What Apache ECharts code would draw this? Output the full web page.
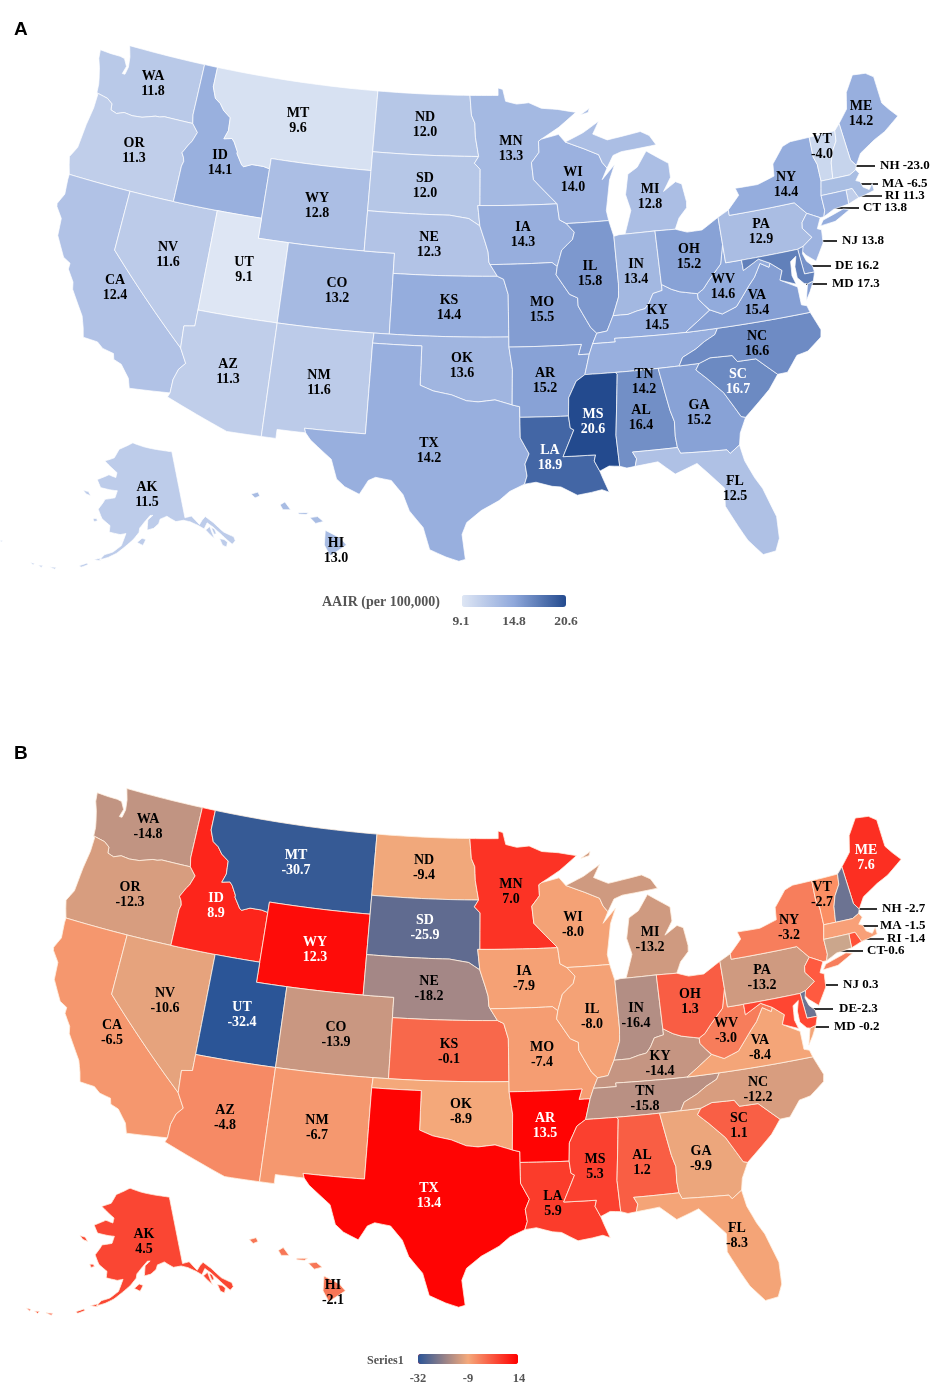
<!DOCTYPE html>
<html>
<head>
<meta charset="utf-8">
<title>US state maps</title>
<script src="https://cdn.jsdelivr.net/npm/echarts@6/dist/echarts.min.js"></script>
<style>
  html, body { margin: 0; padding: 0; background: #fff; }
  #app { width: 935px; height: 1388px; }
</style>
</head>
<body>
<div id="app"></div>
<script>
const stateCodes = ["WA","OR","CA","NV","ID","MT","WY","UT","AZ","CO","NM","ND","SD","NE","KS","OK","TX","MN","IA","MO","AR","LA","WI","IL","MI","IN","KY","TN","MS","AL","GA","FL","SC","NC","VA","WV","OH","PA","NY","ME","VT","NH","MA","RI","CT","NJ","DE","MD","AK","HI"];
const aairValues = [11.8,11.3,12.4,11.6,14.1,9.6,12.8,9.1,11.3,13.2,11.6,12.0,12.0,12.3,14.4,13.6,14.2,13.3,14.3,15.5,15.2,18.9,14.0,15.8,12.8,13.4,14.5,14.2,20.6,16.4,15.2,12.5,16.7,16.6,15.4,14.6,15.2,12.9,14.4,14.2,-4.0,-23.0,-6.5,11.3,13.8,13.8,16.2,17.3,11.5,13.0];
const changeValues = [-14.8,-12.3,-6.5,-10.6,8.9,-30.7,12.3,-32.4,-4.8,-13.9,-6.7,-9.4,-25.9,-18.2,-0.1,-8.9,13.4,7.0,-7.9,-7.4,13.5,5.9,-8.0,-8.0,-13.2,-16.4,-14.4,-15.8,5.3,1.2,-9.9,-8.3,1.1,-12.2,-8.4,-3.0,1.3,-13.2,-3.2,7.6,-2.7,-2.7,-1.5,-1.4,-0.6,0.3,-2.3,-0.2,4.5,-2.1];

const legendTicksA = ["9.1","14.8","20.6"];
const legendTicksB = ["-32","-9","14"];
const calloutStates = ["NH","MA","RI","CT","NJ","DE","MD"];

// state outlines, lon lat
const stateShapes = {
  WA: ["-124.73 48.38,-123.9 48.35,-123.2 48.35,-122.85 48.3,-122.55 47.95,-122.7 47.55,-122.5 47.55,-122.4 47.95,-122.5 48.45,-122.75 49,-117.03 49,-117.04 46.42,-116.92 45.99,-118.98 46,-119.3 45.93,-119.6 45.92,-120.5 45.7,-121.2 45.65,-121.8 45.7,-122.3 45.55,-122.75 45.65,-122.8 45.95,-123.2 46.15,-123.9 46.25,-124.05 46.27,-124.1 46.7,-124.2 47,-124.4 47.5,-124.65 47.95"],
  OR: ["-124.05 46.27,-123.9 46.25,-123.2 46.15,-122.8 45.95,-122.75 45.65,-122.3 45.55,-121.8 45.7,-121.2 45.65,-120.5 45.7,-119.6 45.92,-119.3 45.93,-118.98 46,-116.92 45.99,-116.46 45.6,-116.7 45.1,-116.85 44.95,-117.2 44.45,-117.03 44.25,-116.95 44.05,-117.03 43.8,-117.03 42,-120 42,-124.2 42,-124.4 42.45,-124.55 42.84,-124.2 43.4,-124.1 44.6,-123.95 45.5,-123.95 46.2"],
  CA: ["-124.2 42,-120 42,-120 39,-114.63 35,-114.15 34.3,-114.5 33.95,-114.7 33.4,-114.72 32.72,-117.12 32.53,-117.3 33,-117.9 33.6,-118.4 33.75,-118.5 34.03,-119.2 34.15,-119.6 34.4,-120.5 34.45,-120.65 34.9,-120.9 35.45,-121.9 36.6,-122 36.95,-122.5 37.5,-122.5 37.8,-123 38,-123.75 38.95,-123.85 39.8,-124.35 40.3,-124.4 40.45,-124.1 41,-124.2 41.75"],
  NV: ["-120 42,-117.03 42,-114.04 42,-114.04 37,-114.04 36.2,-114.7 36.1,-114.63 35,-120 39"],
  ID: ["-117.03 49,-116.05 49,-116.05 48,-115.72 47.45,-115.3 47.25,-114.95 46.93,-114.4 46.65,-114.35 46,-114.55 45.56,-114 45.65,-113.8 45.5,-113.45 45.05,-113.45 44.95,-113 44.45,-112.85 44.37,-112.3 44.55,-111.5 44.55,-111.05 44.48,-111.05 42,-117.03 42,-117.03 43.8,-116.95 44.05,-117.03 44.25,-117.2 44.45,-116.85 44.95,-116.7 45.1,-116.46 45.6,-116.92 45.99,-117.04 46.42"],
  MT: ["-116.05 49,-104.05 49,-104.05 45,-111.05 45,-111.05 44.48,-111.5 44.55,-112.3 44.55,-112.85 44.37,-113 44.45,-113.45 44.95,-113.45 45.05,-113.8 45.5,-114 45.65,-114.55 45.56,-114.35 46,-114.4 46.65,-114.95 46.93,-115.3 47.25,-115.72 47.45,-116.05 48"],
  WY: ["-111.05 45,-104.05 45,-104.05 41,-111.05 41"],
  UT: ["-114.04 42,-111.05 42,-111.05 41,-109.05 41,-109.05 37,-114.04 37"],
  AZ: ["-114.04 37,-109.05 37,-109.05 31.33,-111.07 31.33,-114.82 32.5,-114.72 32.72,-114.7 33.4,-114.5 33.95,-114.15 34.3,-114.63 35,-114.7 36.1,-114.04 36.2"],
  CO: ["-109.05 41,-102.05 41,-102.05 37,-109.05 37"],
  NM: ["-109.05 37,-103 37,-103.04 36.5,-103.06 32,-106.62 32,-106.53 31.78,-108.2 31.78,-108.2 31.33,-109.05 31.33"],
  ND: ["-104.05 49,-97.23 49,-97.1 48,-96.85 47.6,-96.8 46.9,-96.56 45.94,-104.05 45.94"],
  SD: ["-104.05 45.94,-96.56 45.94,-96.85 45.6,-96.45 45.3,-96.45 43.5,-96.6 43.5,-96.45 42.49,-97.2 42.85,-98.5 43,-104.05 43"],
  NE: ["-104.05 43,-98.5 43,-97.2 42.85,-96.45 42.49,-96.1 41.7,-95.9 41.2,-95.85 40.7,-95.77 40.58,-95.3 40,-102.05 40,-102.05 41,-104.05 41"],
  KS: ["-102.05 40,-95.3 40,-94.9 39.85,-94.62 39.1,-94.62 37,-102.05 37"],
  OK: ["-103 37,-94.62 37,-94.62 36.5,-94.43 35.4,-94.48 33.64,-95.5 33.9,-96.5 33.8,-97.2 33.85,-98.1 34.13,-99.2 34.3,-100 34.56,-100 36.5,-103.04 36.5"],
  TX: ["-103.04 36.5,-100 36.5,-100 34.56,-99.2 34.3,-98.1 34.13,-97.2 33.85,-96.5 33.8,-95.5 33.9,-94.48 33.64,-94.04 33.55,-94.04 33.02,-94.04 32,-93.55 31.2,-93.8 30.7,-93.7 30.1,-93.85 29.7,-94.7 29.35,-95.3 28.9,-96.3 28.4,-97.1 27.8,-97.35 27.2,-97.15 25.95,-97.5 25.85,-98.2 26.05,-99.1 26.4,-99.5 27.5,-100.3 28.3,-100.7 29.1,-101.4 29.77,-102.3 29.88,-102.7 29.7,-103.15 28.98,-104 29.3,-104.5 29.65,-104.9 30.6,-106.2 31.45,-106.53 31.78,-106.62 32,-103.06 32"],
  MN: ["-97.23 49,-95.15 49,-95.15 49.38,-94.8 49.3,-94.6 48.7,-93.8 48.55,-92.9 48.6,-92 48.3,-90.8 48.2,-89.5 48,-90.8 47.3,-92.1 46.75,-92.3 46.65,-92.29 46.1,-92.85 45.6,-92.75 44.75,-91.2 43.5,-96.45 43.5,-96.45 45.3,-96.85 45.6,-96.56 45.94,-96.8 46.9,-96.85 47.6,-97.1 48"],
  IA: ["-96.6 43.5,-96.45 43.5,-91.2 43.5,-91.1 42.7,-90.65 42.5,-90.15 42.05,-90.3 41.7,-91.05 41.2,-91.4 40.4,-91.73 40.61,-95.77 40.58,-95.85 40.7,-95.9 41.2,-96.1 41.7,-96.45 42.49"],
  MO: ["-95.77 40.58,-91.73 40.61,-91.4 40.4,-91.5 40,-90.7 39,-90.2 38.8,-90.2 38.4,-89.5 37.3,-89.15 37,-89.45 36.5,-89.7 36,-90.37 36,-90.15 36.5,-94.62 36.5,-94.62 37,-94.62 39.1,-94.9 39.85,-95.3 40"],
  AR: ["-94.62 36.5,-90.15 36.5,-90.37 36,-89.7 36,-90.05 35,-90.6 34.7,-91.1 33.9,-91.17 33,-94.04 33.02,-94.04 33.55,-94.48 33.64,-94.43 35.4"],
  LA: ["-94.04 33.02,-91.17 33,-91.1 32.4,-90.9 32.3,-91.6 31,-89.73 31,-89.83 30.7,-89.55 30.18,-89.4 29.8,-89.1 29.1,-89.5 29.25,-90.1 29.15,-90.9 29.05,-91.8 29.5,-92.3 29.55,-93.2 29.78,-93.85 29.7,-93.7 30.1,-93.8 30.7,-93.55 31.2,-94.04 32"],
  MS: ["-90.05 35,-88.2 35,-88.1 34.9,-88.47 31.9,-88.4 30.35,-89 30.4,-89.55 30.18,-89.83 30.7,-89.73 31,-91.6 31,-90.9 32.3,-91.1 32.4,-91.17 33,-91.1 33.9,-90.6 34.7"],
  AL: ["-88.2 35,-85.6 35,-85.18 32.87,-85 32.3,-85.05 31.55,-85 31,-87.6 31,-87.4 30.65,-87.52 30.28,-88 30.23,-88.4 30.35,-88.47 31.9,-88.1 34.9"],
  GA: ["-85.6 35,-83.1 35,-83.35 34.7,-82.75 34.2,-81.9 33.4,-81.4 32.6,-81.1 32.1,-80.85 32.03,-81.3 31.3,-81.45 30.72,-82.05 30.37,-82.2 30.57,-84.86 30.7,-85 31,-85.05 31.55,-85 32.3,-85.18 32.87"],
  FL: ["-87.6 31,-85 31,-84.86 30.7,-82.2 30.57,-82.05 30.37,-81.45 30.72,-81.3 29.9,-80.9 29,-80.55 28.4,-80.05 26.9,-80.1 25.8,-80.4 25.2,-81.1 25.12,-81.8 25.95,-82.2 26.7,-82.75 27.8,-82.65 28.7,-83.4 29.5,-84 30.1,-85.3 29.7,-86.2 30.4,-87.52 30.28,-87.4 30.65"],
  SC: ["-83.1 35,-82.4 35.2,-81.05 35.15,-80.8 34.82,-79.67 34.8,-78.55 33.86,-79.2 33.2,-79.9 32.7,-80.85 32.03,-81.1 32.1,-81.4 32.6,-81.9 33.4,-82.75 34.2,-83.35 34.7"],
  NC: ["-84.32 35,-83.1 35,-82.4 35.2,-81.05 35.15,-80.8 34.82,-79.67 34.8,-78.55 33.86,-77.95 33.87,-77.2 34.6,-76.5 34.7,-75.55 35.25,-75.45 35.6,-75.87 36.55,-81.68 36.59,-81.9 36.3,-82.6 36.03,-83.2 35.72,-84.05 35.4"],
  TN: ["-89.7 36,-89.45 36.5,-88.05 36.5,-88.07 36.68,-83.68 36.6,-81.68 36.59,-81.9 36.3,-82.6 36.03,-83.2 35.72,-84.05 35.4,-84.32 35,-85.6 35,-88.2 35,-90.05 35"],
  KY: ["-89.15 37,-88.5 37.07,-88.05 37.8,-87.1 37.8,-86.5 37.93,-86 38,-85.7 38.28,-85.4 38.7,-84.8 38.8,-84.8 39.1,-84.2 38.8,-83.7 38.63,-82.6 38.42,-82.6 38.15,-82 37.53,-81.97 37.54,-83.68 36.6,-88.07 36.68,-88.05 36.5,-89.45 36.5"],
  IL: ["-90.65 42.5,-87.8 42.5,-87.55 41.7,-87.53 39.35,-87.6 38.7,-88.05 37.8,-88.5 37.07,-89.15 37,-89.5 37.3,-90.2 38.4,-90.2 38.8,-90.7 39,-91.5 40,-91.4 40.4,-91.05 41.2,-90.3 41.7,-90.15 42.05"],
  IN: ["-87.55 41.7,-87.2 41.76,-86.8 41.76,-84.8 41.76,-84.8 39.1,-84.8 38.8,-85.4 38.7,-85.7 38.28,-86 38,-86.5 37.93,-87.1 37.8,-88.05 37.8,-87.6 38.7,-87.53 39.35"],
  OH: ["-84.8 41.76,-83.45 41.72,-82.7 41.5,-81.7 41.5,-80.52 42,-80.52 40.64,-80.85 39.7,-81.75 39,-82.2 38.6,-82.6 38.42,-83.7 38.63,-84.2 38.8,-84.8 39.1"],
  WV: ["-80.52 40.64,-80.52 39.72,-79.48 39.72,-79.48 39.2,-78.4 39.62,-77.72 39.32,-77.83 39.13,-78.35 39.4,-78.87 38.77,-79.3 38.42,-80.3 37.5,-81.25 37.25,-81.97 37.54,-82 37.53,-82.6 38.15,-82.6 38.42,-82.2 38.6,-81.75 39,-80.85 39.7"],
  VA: ["-83.68 36.6,-81.97 37.54,-81.25 37.25,-80.3 37.5,-79.3 38.42,-78.87 38.77,-78.35 39.4,-77.83 39.13,-77.72 39.32,-77.05 38.85,-77.3 38.4,-76.3 37.9,-76.3 37,-75.98 36.9,-75.87 36.55,-81.68 36.59", "-75.95 37.15,-75.65 37.95,-75.25 38.03,-75.6 37.55"],
  MD: ["-79.48 39.72,-75.79 39.72,-75.7 38.46,-75.05 38.45,-75.25 38.03,-75.65 37.95,-75.85 38,-76.2 38.35,-76.2 38.9,-76 39.4,-76.4 39.2,-76.5 38.5,-76.35 38.05,-77.3 38.4,-77.05 38.85,-77.72 39.32,-78.4 39.62,-79.48 39.2"],
  DE: ["-75.79 39.72,-75.41 39.8,-75.55 39.45,-75.4 39.05,-75.1 38.78,-75.05 38.45,-75.7 38.46"],
  PA: ["-80.52 42,-79.76 42.27,-79.76 42,-75.35 42,-74.7 41.36,-75.13 40.97,-75.2 40.68,-74.72 40.15,-75.41 39.8,-75.79 39.72,-80.52 39.72"],
  NJ: ["-74.7 41.36,-73.9 41,-74.25 40.5,-74 40.4,-74.1 39.75,-74.8 38.95,-75.35 39.35,-75.55 39.6,-75.41 39.8,-74.72 40.15,-75.2 40.68,-75.13 40.97"],
  NY: ["-79.76 42.27,-78.9 42.9,-79.05 43.27,-77.5 43.25,-76.3 43.5,-76.2 44.1,-75.3 44.85,-74.7 45,-73.34 45,-73.4 44,-73.25 43.6,-73.27 42.75,-73.5 42.05,-73.5 41.3,-73.65 41,-73.9 41,-74.7 41.36,-75.35 42,-79.76 42", "-74 40.6,-73.75 40.85,-72.3 41.15,-71.9 41.05,-73 40.65"],
  VT: ["-73.34 45,-71.5 45.01,-71.6 44.5,-72.05 44,-72.3 43.5,-72.46 42.73,-73.27 42.75,-73.25 43.6,-73.4 44"],
  NH: ["-71.5 45.01,-71.08 45.3,-70.98 43.4,-70.7 43.07,-70.82 42.87,-71.3 42.7,-72.46 42.73,-72.3 43.5,-72.05 44,-71.6 44.5"],
  ME: ["-71.08 45.3,-70.3 45.9,-70 46.7,-69.23 47.46,-68.3 47.36,-67.8 47.07,-67.8 45.7,-67.45 45.3,-67 44.85,-68.2 44.3,-69.05 44.05,-70.2 43.6,-70.7 43.07,-70.98 43.4"],
  MA: ["-73.5 42.05,-71.8 42.02,-71.38 42.02,-71.12 41.5,-70.65 41.55,-70 41.65,-70 42,-70.3 41.75,-70.65 41.95,-70.75 42.25,-71 42.35,-70.65 42.65,-70.82 42.87,-71.3 42.7,-72.46 42.73,-73.27 42.75"],
  CT: ["-73.5 42.05,-71.8 42.02,-71.86 41.32,-72.9 41.25,-73.65 41,-73.5 41.3"],
  RI: ["-71.8 42.02,-71.38 42.02,-71.12 41.5,-71.86 41.32"],
  MI: ["-86.8 41.76,-84.8 41.76,-83.45 41.72,-83.1 42.25,-82.5 42.7,-82.45 43,-82.6 43.9,-83 44.05,-83.9 43.65,-83.3 44.3,-83.3 45,-84.75 45.75,-85.5 45,-86.2 44.7,-86.5 43.7,-86.25 42.9", "-90.4 46.55,-89.1 46.95,-87.9 47.47,-88.4 46.85,-87.4 46.5,-85 46.75,-84.4 46.5,-84 46,-84.8 45.95,-86.5 45.85,-87.1 45.7,-87.6 45.1,-87.9 45.4,-88.1 45.8,-89.1 46.15", "-89.2 47.85,-88.5 48.15,-88.6 47.95"],
  WI: ["-92.29 46.1,-92.3 46.65,-92.1 46.75,-90.85 46.95,-90.4 46.55,-89.1 46.15,-88.1 45.8,-87.9 45.4,-87.6 45.1,-88 44.55,-87.05 45.25,-87.5 44.5,-87.9 43,-87.8 42.5,-90.65 42.5,-91.1 42.7,-91.2 43.5,-92.75 44.75,-92.85 45.6"],
  AK: [
    "-141 69.65,-141 60.3,-139.1 60.35,-137.5 58.95,-136.5 59.45,-135.4 59.8,-133.8 58.7,-132 57,-130 55.9,-130 55.3,-131 55,-131.8 55.8,-133 57,-134.2 58.1,-135.4 58.9,-136.6 58.2,-138 58.9,-139.8 59.6,-141.5 60,-143.7 60,-146 60.9,-148 60.6,-148.5 60,-150 59.4,-151.8 59.2,-151.5 60.6,-150 61.2,-150.8 61.2,-152.5 60.3,-153.8 59.5,-154 58.9,-155.5 57.9,-157.5 56.9,-159.5 55.9,-161.5 55.2,-163.5 54.7,-162.5 55.5,-160.5 56,-158.5 57,-157.5 58.7,-159 58.5,-162 58.7,-162 59.6,-164.5 60.4,-166 61.6,-164.8 62.7,-164.5 63.1,-161.5 63.5,-161 64.5,-163 64.5,-166.5 64.6,-168.1 65.6,-164.5 66.55,-162 66.3,-161.8 67,-164 67.6,-166.8 68.35,-163.5 69,-162 70.3,-156.6 71.35,-152 70.8,-148 70.4,-144 70",
    "-154.5 57.5,-153.2 58.1,-152.2 57.9,-153 57.1",
    "-167 60.2,-166 60.3,-165.6 60,-166.5 59.8",
    "-171.7 63.7,-170 63.7,-169 63.2,-170.5 63.3",
    "-164.9 54.6,-163.2 55,-163.3 54.6",
    "-168 53.4,-166.3 54,-166 53.8,-167.5 53.25",
    "-174.5 52.2,-173 52.4,-173.2 52.1",
    "-177 51.9,-176 52.1,-176.2 51.75",
    "-178.9 51.9,-177.9 51.95,-178.1 51.7",
    "-187.2 52.9,-186.6 53,-186.8 52.75",
    "-133.5 56.3,-132.5 56,-131.9 55.5,-132.5 54.9,-133.3 55.3",
    "-136.3 58,-135 58.3,-134.9 57.5,-134.7 56.5,-135.5 57.2",
    "-134.7 58.1,-134 57.8,-133.9 57.1,-134.5 57.1"
  ],
  HI: [
    "-155.9 20.25,-155.1 19.85,-154.8 19.5,-155.65 18.95,-155.95 19.5",
    "-156.7 20.9,-156.3 20.95,-156 20.7,-156.4 20.6",
    "-157.3 21.15,-156.75 21.15,-156.9 21.05,-157.3 21.08",
    "-158.25 21.55,-158 21.7,-157.7 21.3,-158.1 21.3",
    "-159.75 22.1,-159.4 22.2,-159.3 22,-159.55 21.9"
  ]
};

// page pixel centre of each state label, panel A then panel B
const labelSpotsA = { WA:[153,84],OR:[134,151],CA:[115,288],NV:[168,255],ID:[220,163],MT:[298,121],WY:[317,206],UT:[244,270],AZ:[228,372],CO:[337,291],NM:[319,383],ND:[425,125],SD:[425,186],NE:[429,245],KS:[449,308],OK:[462,366],TX:[429,451],MN:[511,149],IA:[523,235],MO:[542,310],AR:[545,381],LA:[550,458],WI:[573,180],IL:[590,274],MI:[650,197],IN:[636,272],KY:[657,318],TN:[644,382],MS:[593,422],AL:[641,418],GA:[699,413],FL:[735,489],SC:[738,382],NC:[757,344],VA:[757,303],WV:[723,287],OH:[689,257],PA:[761,232],NY:[786,185],ME:[861,114],VT:[822,147],AK:[147,495],HI:[336,551] };
const labelSpotsB = { WA:[148,827],OR:[130,895],CA:[112,1033],NV:[165,1001],ID:[216,906],MT:[296,863],WY:[315,950],UT:[242,1015],AZ:[225,1118],CO:[336,1035],NM:[317,1128],ND:[424,868],SD:[425,928],NE:[429,989],KS:[449,1052],OK:[461,1112],TX:[429,1196],MN:[511,892],IA:[524,979],MO:[542,1055],AR:[545,1126],LA:[553,1204],WI:[573,925],IL:[592,1017],MI:[650,940],IN:[636,1016],KY:[660,1064],TN:[645,1099],MS:[595,1167],AL:[642,1163],GA:[701,1159],FL:[737,1236],SC:[739,1126],NC:[758,1090],VA:[760,1048],WV:[726,1031],OH:[690,1002],PA:[762,978],NY:[789,928],ME:[866,858],VT:[822,895],AK:[144,1242],HI:[333,1293] };

// leader lines: x1, x2, y, text x
const calloutsA = { NH:[845,875,166,880], MA:[856,878,184,882], RI:[849,882,196,885], CT:[827,859,208,863], NJ:[813,837,241,842], DE:[807,831,266,835], MD:[806,827,284,832] };
const calloutsB = { NH:[846,877,909,882], MA:[857,878,926,880], RI:[851,884,939,887], CT:[831,863,951,867], NJ:[814,838,985,843], DE:[809,833,1009,839], MD:[807,829,1027,834] };
const calloutGapB = { CT: "", DE: "" };

// states whose fill in the figure does not follow the printed value
const fillOverridesA = { VT: "#CBD8EE", NH: "#C6D4EC", MA: "#A9BEE3" };
const fillOverridesB = { NH: "#6C7392", DE: "#6C7392", CT: "#CBA68C", RI: "#FF5038", NJ: "#FF5A40", MD: "#FF4632", VT: "#FB8F64", MA: "#F8A078" };

const whiteLabelsA = ["LA", "MS", "SC"];
const whiteLabelsB = ["ME", "ID", "MT", "WY", "UT", "SD", "AR", "TX"];

const SERIF = '"Liberation Serif", serif';

// Albers for the lower 48, its own conic for Alaska, flat inset for Hawaii
const rad = Math.PI / 180;
function conic(p1, p2, lat0) {
  const n = (Math.sin(p1 * rad) + Math.sin(p2 * rad)) / 2;
  const c = Math.cos(p1 * rad) ** 2 + 2 * n * Math.sin(p1 * rad);
  const rho = lat => Math.sqrt(c - 2 * n * Math.sin(lat * rad)) / n;
  return { n, c, rho, rho0: lat0 == null ? 0 : rho(lat0) };
}
const usCone = conic(29.5, 45.5, 37.5);
const akCone = conic(55, 65);
const US = { sx: 1166, sy: 1150, x0: 486.6, y0: 327 };
const AK = { s: 413, x0: 139, y0: 286 };
const HI = { sx: 19.25, sy: 19.6, x0: 333, y0: 545 };

// place: panel A page pixels to this panel's page pixels
function makeProjection(place) {
  return {
    project(pt) {
      const lon = pt[0], lat = pt[1];
      let x, y;
      if (lon < -150 && lat < 25) {
        x = HI.x0 + HI.sx * (lon + 155.5);
        y = HI.y0 - HI.sy * (lat - 19.5);
      } else if (lon < -128 && lat > 50) {
        const t = akCone.n * (lon + 154) * rad, r = akCone.rho(lat);
        x = AK.x0 + AK.s * r * Math.sin(t);
        y = AK.y0 + AK.s * r * Math.cos(t);
      } else {
        const t = usCone.n * (lon + 96) * rad, r = usCone.rho(lat);
        x = US.x0 + US.sx * r * Math.sin(t);
        y = US.y0 - US.sy * (usCone.rho0 - r * Math.cos(t));
      }
      return [place.x0 + place.kx * x, place.y0 + place.ky * y];
    },
    unproject(pt) {
      return invert((pt[0] - place.x0) / place.kx, (pt[1] - place.y0) / place.ky, "US");
    }
  };
}

function invert(px, py, zone) {
  if (zone === "HI") return [(px - HI.x0) / HI.sx - 155.5, 19.5 - (py - HI.y0) / HI.sy];
  const cone = zone === "AK" ? akCone : usCone;
  const x = zone === "AK" ? (px - AK.x0) / AK.s : (px - US.x0) / US.sx;
  const y = zone === "AK" ? (py - AK.y0) / AK.s : usCone.rho0 - (US.y0 - py) / US.sy;
  const r = Math.hypot(x, y), t = Math.atan2(x, y);
  const lon = (zone === "AK" ? -154 : -96) + t / cone.n / rad;
  const lat = Math.asin((cone.c - (r * cone.n) ** 2) / (2 * cone.n)) / rad;
  return [lon, lat];
}

// long straight borders have to bend with the cone
function parseRing(text) {
  const pts = text.split(",").map(p => p.trim().split(" ").map(Number));
  pts.push(pts[0]);
  const out = [];
  pts.forEach((p, i) => {
    if (i === 0) { out.push(p); return; }
    const q = pts[i - 1];
    const steps = Math.ceil(Math.max(Math.abs(p[0] - q[0]), Math.abs(p[1] - q[1])) / 0.5);
    for (let k = 1; k <= steps; k++) {
      out.push([q[0] + (p[0] - q[0]) * k / steps, q[1] + (p[1] - q[1]) * k / steps]);
    }
  });
  return out;
}

function buildPanel(mapName, spots, place) {
  const projection = makeProjection(place);
  let minX = Infinity, minY = Infinity, maxX = -Infinity, maxY = -Infinity;
  const features = stateCodes.map(code => {
    const rings = stateShapes[code].map(parseRing);
    rings.forEach(ring => ring.forEach(pt => {
      const p = projection.project(pt);
      minX = Math.min(minX, p[0]); maxX = Math.max(maxX, p[0]);
      minY = Math.min(minY, p[1]); maxY = Math.max(maxY, p[1]);
    }));
    const spot = spots[code] || [300, 300];
    const zone = code === "AK" || code === "HI" ? code : "US";
    return {
      type: "Feature",
      properties: { name: code, cp: invert((spot[0] - place.x0) / place.kx, (spot[1] - place.y0) / place.ky, zone) },
      geometry: { type: "MultiPolygon", coordinates: rings.map(r => [r]) }
    };
  });
  echarts.registerMap(mapName, { type: "FeatureCollection", features });
  return { projection, box: { left: minX, top: minY, width: maxX - minX, height: maxY - minY } };
}

function mapSeries(mapName, panel, values, overrides, whites, borderColor) {
  return Object.assign({
    type: "map",
    map: mapName,
    projection: panel.projection,
    roam: false,
    silent: true,
    animation: false,
    showLegendSymbol: false,
    itemStyle: { borderColor, borderWidth: 1 },
    label: {
      show: true,
      fontFamily: SERIF,
      fontWeight: "bold",
      fontSize: 14,
      lineHeight: 15.5,
      color: "#000",
      formatter: p => p.name + "\n" + values[stateCodes.indexOf(p.name)].toFixed(1)
    },
    data: stateCodes.map((code, i) => {
      const item = { name: code, value: values[i] };
      if (calloutStates.includes(code)) item.label = { show: false };
      if (whites.includes(code)) item.label = { color: "#fff" };
      if (overrides[code]) {
        item.visualMap = false;
        item.itemStyle = { color: overrides[code], areaColor: overrides[code] };
      }
      return item;
    })
  }, panel.box);
}

function calloutGraphics(callouts, values, gaps) {
  const out = [];
  calloutStates.forEach(code => {
    const c = callouts[code];
    const val = values[stateCodes.indexOf(code)].toFixed(1);
    const gap = gaps[code] === undefined ? " " : gaps[code];
    out.push({ type: "line", silent: true, shape: { x1: c[0], y1: c[2], x2: c[1], y2: c[2] }, style: { stroke: "#000", lineWidth: 1.6 } });
    out.push({ type: "text", silent: true, style: { x: c[3], y: c[2], text: code + gap + val, font: 'bold 13px ' + SERIF, fill: "#000", verticalAlign: "middle" } });
  });
  return out;
}

function plainText(x, y, text, font, fill, align) {
  return { type: "text", silent: true, style: { x, y, text, font, fill, align: align || "left", verticalAlign: "middle" } };
}

function legendGraphics(title, titleSize, titleX, titleY, ticks, tickSize, tickXs, tickY, color) {
  const out = [plainText(titleX, titleY, title, 'bold ' + titleSize + 'px ' + SERIF, color)];
  ticks.forEach((t, i) => out.push(plainText(tickXs[i], tickY, t, 'bold ' + tickSize + 'px ' + SERIF, color, "center")));
  return out;
}

const panelA = buildPanel("usA", labelSpotsA, { x0: 0, y0: 0, kx: 1, ky: 1 });
const panelB = buildPanel("usB", labelSpotsB, { x0: -3.9, y0: 742.6, kx: 1.008, ky: 1.006 });

const chart = echarts.init(document.getElementById("app"));
chart.setOption({
  backgroundColor: "#fff",
  animation: false,
  visualMap: [
    {
      type: "continuous", seriesIndex: 0, min: 9.1, max: 20.6, orient: "horizontal",
      left: 462, top: 595, itemWidth: 12, itemHeight: 104, padding: 0,
      calculable: false, text: null, showLabel: false, hoverLink: false,
      inRange: { color: ["#DEE6F4", "#8FA8DB", "#234A8E"] },
      outOfRange: { color: "#DEE6F4" }
    },
    {
      type: "continuous", seriesIndex: 1, min: -32, max: 14, orient: "horizontal",
      left: 418, top: 1354, itemWidth: 10, itemHeight: 100, padding: 0,
      calculable: false, text: null, showLabel: false, hoverLink: false,
      inRange: { color: ["#2B5597", "#F4A97B", "#FF0000"] },
      outOfRange: { color: "#FF0000" }
    }
  ],
  series: [
    mapSeries("usA", panelA, aairValues, fillOverridesA, whiteLabelsA, "rgba(255,255,255,0.7)"),
    mapSeries("usB", panelB, changeValues, fillOverridesB, whiteLabelsB, "rgba(255,240,225,0.8)")
  ],
  graphic: [].concat(
    plainText(14, 30, "A", 'bold 19px "Liberation Sans", sans-serif', "#000"),
    plainText(14, 754, "B", 'bold 19px "Liberation Sans", sans-serif', "#000"),
    calloutGraphics(calloutsA, aairValues, {}),
    calloutGraphics(calloutsB, changeValues, calloutGapB),
    legendGraphics("AAIR (per 100,000)", 14, 322, 602, legendTicksA, 13.5, [461, 514, 566], 622, "#555"),
    legendGraphics("Series1", 12, 367, 1361, legendTicksB, 12.5, [418, 468, 519], 1379, "#555")
  )
});
window.onresize = function() {
  chart.resize();
};
</script>
</body>
</html>
